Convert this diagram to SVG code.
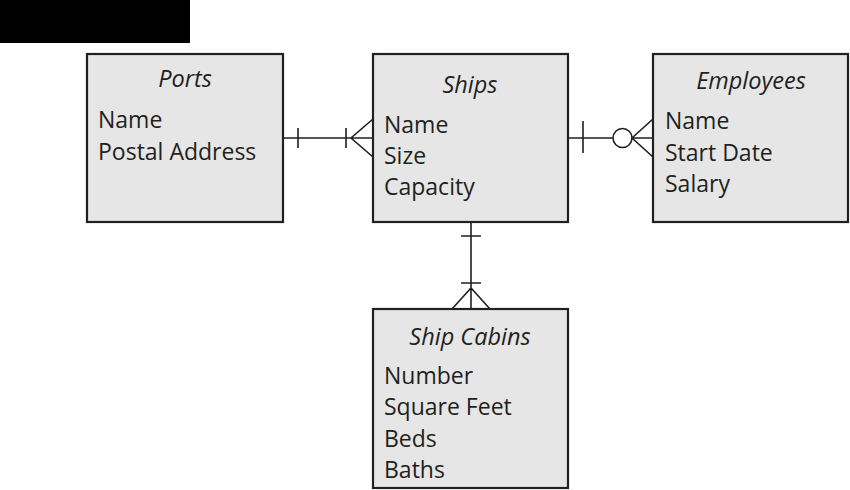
<svg xmlns="http://www.w3.org/2000/svg" width="850" height="490" viewBox="0 0 850 490">
<style>
.box{fill:#e6e6e6;stroke:#231f20;stroke-width:2.2}
.t{font-family:"Open Sans","Noto Sans",sans-serif;font-size:23px;fill:#231f20}
.h{font-style:italic;text-anchor:middle;font-size:23.5px}
.c{fill:none;stroke:#231f20;stroke-width:1.6}
</style>
<rect x="0" y="0" width="190" height="43" fill="#000"/>
<g id="ports">
<rect class="box" x="87" y="54" width="196" height="168"/>
<text class="t h" x="185" y="87">Ports</text>
<text class="t" x="98" y="128">Name</text>
<text class="t" x="98" y="160">Postal Address</text>
</g>
<g id="ships">
<rect class="box" x="373" y="54" width="195" height="168"/>
<text class="t h" x="470" y="93">Ships</text>
<text class="t" x="384" y="133">Name</text>
<text class="t" x="384" y="164">Size</text>
<text class="t" x="384" y="195">Capacity</text>
</g>
<g id="employees">
<rect class="box" x="653" y="54" width="195" height="168"/>
<text class="t h" x="751" y="89">Employees</text>
<text class="t" x="665" y="129">Name</text>
<text class="t" x="665" y="161">Start Date</text>
<text class="t" x="665" y="192">Salary</text>
</g>
<g id="shipcabins">
<rect class="box" x="373" y="309" width="195" height="179"/>
<text class="t h" x="470" y="345">Ship Cabins</text>
<text class="t" x="384" y="384">Number</text>
<text class="t" x="384" y="415">Square Feet</text>
<text class="t" x="384" y="447">Beds</text>
<text class="t" x="384" y="478">Baths</text>
</g>
<g id="connectors">
<path class="c" d="M283 138H373M298 128V148M346 128V148M373 119L351 138L373 157"/>
<path class="c" d="M568 138H613M632 138H653M583 121V153M653 119L632 138L653 157"/>
<circle class="c" cx="622.5" cy="138" r="9.5"/>
<path class="c" d="M471 222V309M461 236H481M461 283H481M452 309L471 288L490 309"/>
</g>
</svg>
